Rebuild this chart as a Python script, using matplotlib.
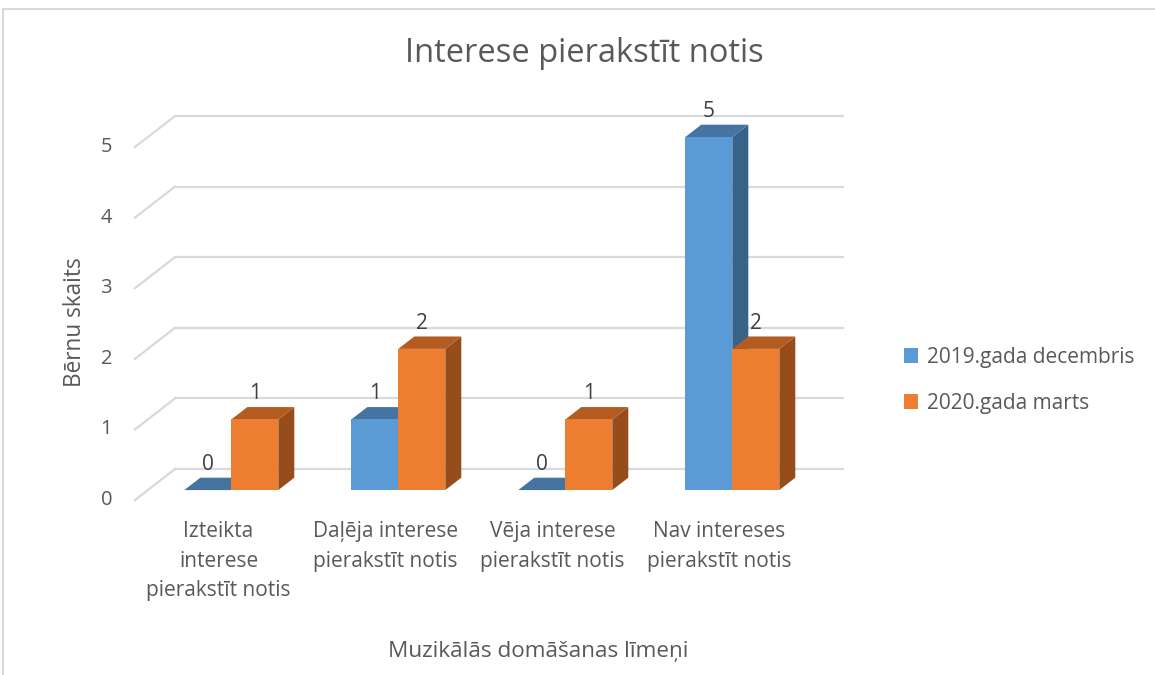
import matplotlib
matplotlib.use("Agg")
import matplotlib.pyplot as plt
from matplotlib.patches import Polygon, Patch
from matplotlib.lines import Line2D

plt.rcParams['font.family'] = ['Open Sans', 'DejaVu Sans']

categories = ["Izteikta\ninterese\npierakstīt notis",
              "Daļēja interese\npierakstīt notis",
              "Vēja interese\npierakstīt notis",
              "Nav intereses\npierakstīt notis"]
series_names = ["2019.gada decembris", "2020.gada marts"]
dec_2019 = [0, 1, 0, 5]
mar_2020 = [1, 2, 1, 2]
yticks = [0, 1, 2, 3, 4, 5]

title = "Interese pierakstīt notis"
ylabel = "Bērnu skaits"
xlabel = "Muzikālās domāšanas līmeņi"

front_cols = ["#5B9BD5", "#ED7D31"]
top_cols = ["#44749F", "#B35B20"]
side_cols = ["#386287", "#974D1B"]
grid_col = "#D9D9D9"
text_col = "#595959"

W, H = 1155, 675
fig = plt.figure(figsize=(W / 100, H / 100), dpi=100)
ax = fig.add_axes([0, 0, 1, 1])
ax.set_axis_off()

# scale: one category = 167 px, one unit = 70.6 px, front plane origin at px (135, 500)
cat_px, unit_px = 167.0, 70.6
x0_px, y0_px = 135.0, 500.0
ax.set_xlim(-0.5 - x0_px / cat_px, -0.5 + (W - x0_px) / cat_px)
ax.set_ylim(-(H - y0_px) / unit_px, y0_px / unit_px)

DX = 40.0 / cat_px   # depth shift (full depth) in x units
DY = 31.0 / unit_px  # depth shift in y units


def P(x, y, d):
    return (x + d * DX, y + d * DY)


n = len(categories)
# gridlines: back wall and left wall
for v in yticks:
    ax.add_line(Line2D(*zip(P(-0.5, v, 1), P(n - 0.5, v, 1)), color=grid_col, lw=1.6, zorder=1))
    ax.add_line(Line2D(*zip(P(-0.5, v, 0), P(-0.5, v, 1)), color=grid_col, lw=1.6, zorder=1))
    ax.text(-0.5 - 23 / cat_px, v, str(v), ha="right", va="center",
            fontsize=14.5, color=text_col)

bw = 47.0 / cat_px
d0, d1 = 0.32, 0.72
z = 3
for i in range(n):
    for s, vals in enumerate([dec_2019, mar_2020]):
        v = vals[i]
        xl = i - bw + s * bw
        xr = xl + bw
        side = [P(xr, 0, d0), P(xr, 0, d1), P(xr, v, d1), P(xr, v, d0)]
        top = [P(xl, v, d0), P(xr, v, d0), P(xr, v, d1), P(xl, v, d1)]
        front = [P(xl, 0, d0), P(xr, 0, d0), P(xr, v, d0), P(xl, v, d0)]
        if v > 0:
            ax.add_patch(Polygon(side, closed=True, fc=side_cols[s], ec="none", zorder=z))
        ax.add_patch(Polygon(top, closed=True, fc=top_cols[s], ec="none", zorder=z + 0.1))
        if v > 0:
            ax.add_patch(Polygon(front, closed=True, fc=front_cols[s], ec="none", zorder=z + 0.2))
        z += 1
        lx = P((xl + xr) / 2, v, d0)[0]
        ly = P((xl + xr) / 2, v, d1)[1]
        ax.annotate(str(v), (lx, ly), xytext=(0, 2), textcoords="offset points",
                    ha="center", va="bottom", fontsize=15, color="#404040", zorder=50)
    ax.text(i, -0.3, categories[i], ha="center", va="top", fontsize=15,
            color=text_col, linespacing=1.53)

fig.text(584 / W, 1 - 53 / H, title, ha="center", va="center", fontsize=23.5, color=text_col)
fig.text(75 / W, 1 - 322 / H, ylabel, ha="center", va="center", rotation=90,
         fontsize=16.3, color=text_col)
fig.text(538 / W, 1 - 652 / H, xlabel, ha="center", va="center", fontsize=16.2, color=text_col)

handles = [Patch(fc=front_cols[0], ec="none"), Patch(fc=front_cols[1], ec="none")]
leg = fig.legend(handles, series_names, loc="center left", bbox_to_anchor=(885 / W, 1 - 380 / H),
                 frameon=False, fontsize=15, handlelength=0.7, handleheight=0.7,
                 handletextpad=0.4, labelspacing=1.2, labelcolor=text_col)

# chart border
fig.add_artist(Line2D([3 / W, 3 / W], [0, 1 - 9 / H], transform=fig.transFigure, color="#D9D9D9", lw=1.5))
fig.add_artist(Line2D([3 / W, 1], [1 - 9 / H, 1 - 9 / H], transform=fig.transFigure, color="#D9D9D9", lw=1.5))

fig.savefig("out.png", dpi=100, facecolor="white")
